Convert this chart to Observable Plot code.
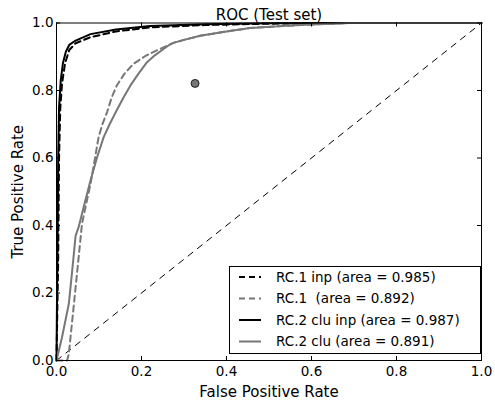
<!DOCTYPE html>
<html>
<head>
<meta charset="utf-8">
<script src="https://cdn.jsdelivr.net/npm/d3@7"></script>
<script src="https://cdn.jsdelivr.net/npm/@observablehq/plot@0.6"></script>
<style>
  html, body { margin: 0; padding: 0; background: #fff; }
  svg { font-family: "DejaVu Sans", sans-serif; }
</style>
</head>
<body>
<div id="chart"></div>
<script>
// ---- data ----
const seriesLabels = [
  "RC.1 inp (area = 0.985)",
  "RC.1  (area = 0.892)",
  "RC.2 clu inp (area = 0.987)",
  "RC.2 clu (area = 0.891)"
];
const rc1inpFpr = [0, 0.004, 0.006, 0.009, 0.013, 0.02, 0.03, 0.045, 0.08, 0.14, 0.22, 0.35, 0.5, 0.7, 1];
const rc1inpTpr = [0, 0.3, 0.6, 0.75, 0.82, 0.88, 0.92, 0.94, 0.958, 0.975, 0.987, 0.994, 0.998, 1, 1];
const rc1Fpr = [0, 0.025, 0.029, 0.037, 0.049, 0.06, 0.07, 0.08, 0.09, 0.099, 0.108, 0.119, 0.13, 0.142, 0.16, 0.181, 0.21, 0.236, 0.26, 0.275, 0.3, 0.338, 0.4, 0.455, 0.52, 0.573, 0.63, 0.69, 1];
const rc1Tpr = [0, 0, 0.02, 0.118, 0.267, 0.405, 0.465, 0.523, 0.595, 0.662, 0.70, 0.736, 0.78, 0.815, 0.85, 0.879, 0.903, 0.919, 0.932, 0.941, 0.95, 0.962, 0.975, 0.985, 0.99, 0.994, 0.997, 1, 1];
const rc2inpFpr = [0, 0.002, 0.004, 0.006, 0.01, 0.015, 0.022, 0.03, 0.045, 0.08, 0.14, 0.22, 0.35, 0.5, 0.7, 1];
const rc2inpTpr = [0, 0.3, 0.6, 0.75, 0.83, 0.88, 0.915, 0.935, 0.948, 0.967, 0.981, 0.991, 0.996, 0.999, 1, 1];
const rc2Fpr = [0, 0.013, 0.029, 0.037, 0.045, 0.052, 0.065, 0.08, 0.095, 0.111, 0.125, 0.142, 0.158, 0.174, 0.193, 0.213, 0.232, 0.252, 0.265, 0.275, 0.3, 0.338, 0.4, 0.455, 0.52, 0.573, 0.63, 0.69, 1];
const rc2Tpr = [0, 0.069, 0.168, 0.267, 0.37, 0.395, 0.46, 0.533, 0.6, 0.662, 0.70, 0.742, 0.78, 0.815, 0.85, 0.884, 0.905, 0.923, 0.935, 0.941, 0.95, 0.962, 0.975, 0.985, 0.99, 0.994, 0.997, 1, 1];
const pointFpr = [0.326];
const pointTpr = [0.821];
const ticks = [0, 0.2, 0.4, 0.6, 0.8, 1.0];

const toRows = (xs, ys) => xs.map((x, i) => ({x, y: ys[i]}));
const curves = [
  {rows: toRows(rc1inpFpr, rc1inpTpr), stroke: "#000", dash: "6,4"},
  {rows: toRows(rc1Fpr, rc1Tpr), stroke: "#777", dash: "6,4"},
  {rows: toRows(rc2inpFpr, rc2inpTpr), stroke: "#000", dash: null},
  {rows: toRows(rc2Fpr, rc2Tpr), stroke: "#777", dash: null}
];

const W = 495, H = 405;
const mL = 56, mR = 14, mT = 22.5, mB = 45;
const fw = W - mL - mR, fh = H - mT - mB;
const tickLen = 4;

const plot = Plot.plot({
  width: W, height: H,
  marginLeft: mL, marginRight: mR, marginTop: mT, marginBottom: mB,
  style: {fontFamily: "DejaVu Sans, sans-serif", background: "#fff", overflow: "visible"},
  x: {domain: [0, 1], ticks: ticks},
  y: {domain: [0, 1], ticks: ticks},
  marks: [
    Plot.line([{x: 0, y: 0}, {x: 1, y: 1}], {x: "x", y: "y", stroke: "#000", strokeWidth: 1, strokeDasharray: "6,6"}),
    ...curves.map(c => Plot.line(c.rows, {x: "x", y: "y", stroke: c.stroke, strokeWidth: 2, strokeDasharray: c.dash ?? undefined, strokeLinejoin: "round"})),
    Plot.dot(toRows(pointFpr, pointTpr), {x: "x", y: "y", r: 4, fill: "#777", stroke: "#000", strokeWidth: 0.8}),
    // inward ticks on all four sides
    Plot.ruleX(ticks, {x: d => d, insetTop: fh - tickLen, stroke: "#000"}),
    Plot.ruleX(ticks, {x: d => d, insetBottom: fh - tickLen, stroke: "#000"}),
    Plot.ruleY(ticks, {y: d => d, insetRight: fw - tickLen, stroke: "#000"}),
    Plot.ruleY(ticks, {y: d => d, insetLeft: fw - tickLen, stroke: "#000"}),
    Plot.frame({stroke: "#000", strokeWidth: 1}),
    Plot.axisX(ticks, {tickSize: 0, tickPadding: 6, tickFormat: d3.format(".1f"), fontSize: 13.5, fill: "#000",
      label: "False Positive Rate", labelAnchor: "center", labelArrow: "none", labelOffset: 36}),
    Plot.axisY(ticks, {tickSize: 0, tickPadding: 3, tickFormat: d3.format(".1f"), fontSize: 13.5, fill: "#000",
      label: "True Positive Rate", labelAnchor: "center", labelArrow: "none", labelOffset: 44}),
    Plot.text(["ROC (Test set)"], {frameAnchor: "top", lineAnchor: "bottom", dy: -3, fontSize: 15, fill: "#000"})
  ]
});

const svg = d3.select(plot);
svg.selectAll("[aria-label='x-axis label'] text, [aria-label='y-axis label'] text").attr("font-size", 15);

// legend (lower right, matplotlib style)
const lx = 229, ly = 266, lw = 251, lh = 87, pitch = 21.5;
const g = svg.append("g").attr("font-size", 13.5).attr("font-family", "DejaVu Sans, sans-serif").attr("text-anchor", "start");
g.append("rect").attr("x", lx + 0.5).attr("y", ly + 0.5).attr("width", lw).attr("height", lh)
  .attr("fill", "#fff").attr("stroke", "#000").attr("stroke-width", 1);
seriesLabels.forEach((lab, i) => {
  const cy = ly + 11 + i * pitch;
  const c = curves[i];
  g.append("line").attr("x1", lx + 10).attr("x2", lx + 32).attr("y1", cy).attr("y2", cy)
    .attr("stroke", c.stroke).attr("stroke-width", 2).attr("stroke-dasharray", c.dash);
  g.append("text").attr("x", lx + 47).attr("y", cy).attr("dy", "0.35em").attr("fill", "#000").attr("text-anchor", "start").text(lab);
});

document.getElementById("chart").appendChild(plot);
</script>
</body>
</html>
